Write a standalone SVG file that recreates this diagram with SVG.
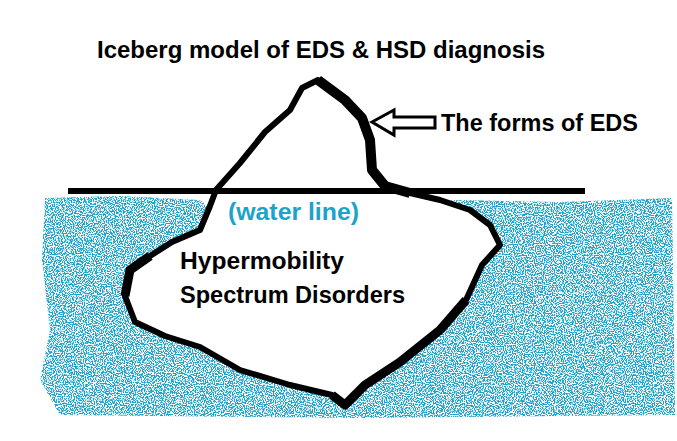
<svg xmlns="http://www.w3.org/2000/svg" width="677" height="441" viewBox="0 0 677 441">
<defs>
<filter id="speck" x="0" y="0" width="100%" height="100%">
<feTurbulence type="fractalNoise" baseFrequency="0.9" numOctaves="1" seed="3" result="n"/>
<feColorMatrix in="n" type="matrix" values="0 0 0 0 0  0 0 0 0 0  0 0 0 0 0  0 0 0 -9 5.0" result="m"/>
<feComposite in="SourceGraphic" in2="m" operator="in"/>
</filter>
<style>
.t{font-family:"Liberation Sans",Arial,sans-serif;font-weight:bold;font-size:23px;fill:#000}
</style>
</defs>
<rect width="677" height="441" fill="#fff"/>
<g id="water" filter="url(#speck)">
<path d="M45,198 L120,196 L200,200 L215,212 L460,200 L560,202 L672,198 L675,415 L360,418 L60,415 L40,380 L50,330 L42,260 Z" fill="#1ba3cc"/>
</g>
<g id="iceberg">
<path d="M302,88 L318,80 L345,100 L362,118 L370,140 L372,170 L385,186 L410,193 L440,200 L470,210 L490,225 L500,245 L482,265 L466,300 L440,330 L400,362 L365,385 L345,405 L332,395 L290,385 L240,370 L200,347 L165,336 L135,322 L125,296 L130,270 L150,256 L172,242 L200,230 L210,206 L216,190 L240,163 L265,132 L290,110 Z" fill="#fff" stroke="#000" stroke-width="6" stroke-linejoin="round"/>
<path d="M318,80 L345,100 L362,118 L370,140 L372,170 L385,186 L410,193" fill="none" stroke="#000" stroke-width="10" stroke-linejoin="round"/>
<path d="M466,300 L440,330 L400,362 L365,385 L345,405 L332,395" fill="none" stroke="#000" stroke-width="9" stroke-linejoin="round"/>
<path d="M125,296 L130,270 L150,256" fill="none" stroke="#000" stroke-width="9"/>
</g>
<g id="waterline">
<line x1="68" y1="191" x2="585" y2="191" stroke="#000" stroke-width="6"/>
</g>
<g id="arrow">
<path d="M372,122 L394,110 L394,117 L435,117 L435,128 L394,128 L394,135 Z" fill="#fff" stroke="#000" stroke-width="3"/>
</g>
<text class="t" x="97" y="58" textLength="448" lengthAdjust="spacingAndGlyphs">Iceberg model of EDS &amp; HSD diagnosis</text>
<text class="t" x="441" y="131" textLength="197" lengthAdjust="spacingAndGlyphs">The forms of EDS</text>
<text class="t" x="228" y="220" style="fill:#1ba3cc" textLength="131" lengthAdjust="spacingAndGlyphs">(water line)</text>
<text class="t" x="180" y="269" textLength="164" lengthAdjust="spacingAndGlyphs">Hypermobility</text>
<text class="t" x="180" y="303" textLength="225" lengthAdjust="spacingAndGlyphs">Spectrum Disorders</text>
</svg>
